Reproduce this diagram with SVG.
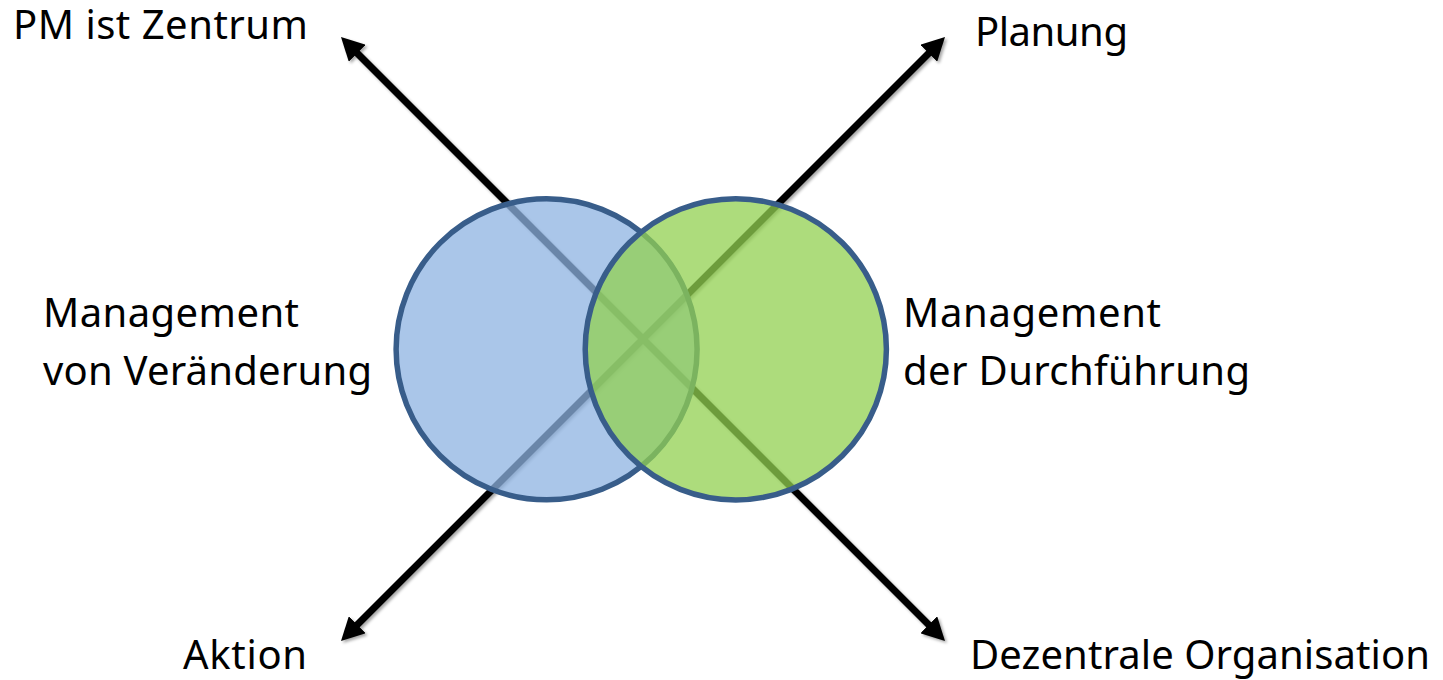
<svg xmlns="http://www.w3.org/2000/svg" width="1443" height="680" viewBox="0 0 1443 680">
  <style>
    .lbl { font-family: "Noto Sans", "Open Sans", sans-serif; font-size: 40px; fill: #000; }
    .conn { stroke: #000; stroke-width: 7; fill: none; marker-end: url(#head); }
    .node { stroke: #385D8A; stroke-width: 5.5; fill-opacity: 0.75; }
  </style>
  <defs>
    <marker id="head" markerUnits="userSpaceOnUse" markerWidth="24" markerHeight="24" refX="11" refY="12" orient="auto" viewBox="0 0 24 24">
      <path d="M0,0 L23,12 L0,24 Z" fill="#000"/>
    </marker>
    <filter id="shadow" x="-10%" y="-10%" width="120%" height="120%">
      <feDropShadow dx="2" dy="2" stdDeviation="1.8" flood-color="#000" flood-opacity="0.35"/>
    </filter>
  </defs>
  <rect width="1443" height="680" fill="#fff"/>
  <g id="connectors" filter="url(#shadow)">
    <line class="conn" x1="643" y1="339" x2="349.5" y2="45.5"/>
    <line class="conn" x1="643" y1="339" x2="936.5" y2="45.5"/>
    <line class="conn" x1="643" y1="339" x2="349.5" y2="632.5"/>
    <line class="conn" x1="643" y1="339" x2="936.5" y2="632.5"/>
  </g>
  <g id="node-veraenderung">
    <circle class="node" cx="546.6" cy="349.3" r="150.5" fill="#8DB3E2"/>
  </g>
  <g id="node-durchfuehrung">
    <circle class="node" cx="735.8" cy="349.3" r="150.6" fill="#92D050"/>
  </g>
  <g id="label-pm">
    <text class="lbl" x="13" y="39" textLength="295">PM ist Zentrum</text>
  </g>
  <g id="label-planung">
    <text class="lbl" x="975" y="46" textLength="153">Planung</text>
  </g>
  <g id="label-aktion">
    <text class="lbl" x="183" y="669" textLength="124">Aktion</text>
  </g>
  <g id="label-dezentral">
    <text class="lbl" x="970" y="669" textLength="460">Dezentrale Organisation</text>
  </g>
  <g id="label-veraenderung">
    <text class="lbl" x="43" y="327" textLength="256">Management</text>
    <text class="lbl" x="43" y="385" textLength="329">von Veränderung</text>
  </g>
  <g id="label-durchfuehrung">
    <text class="lbl" x="903" y="327" textLength="258">Management</text>
    <text class="lbl" x="903" y="385" textLength="347">der Durchführung</text>
  </g>
</svg>
